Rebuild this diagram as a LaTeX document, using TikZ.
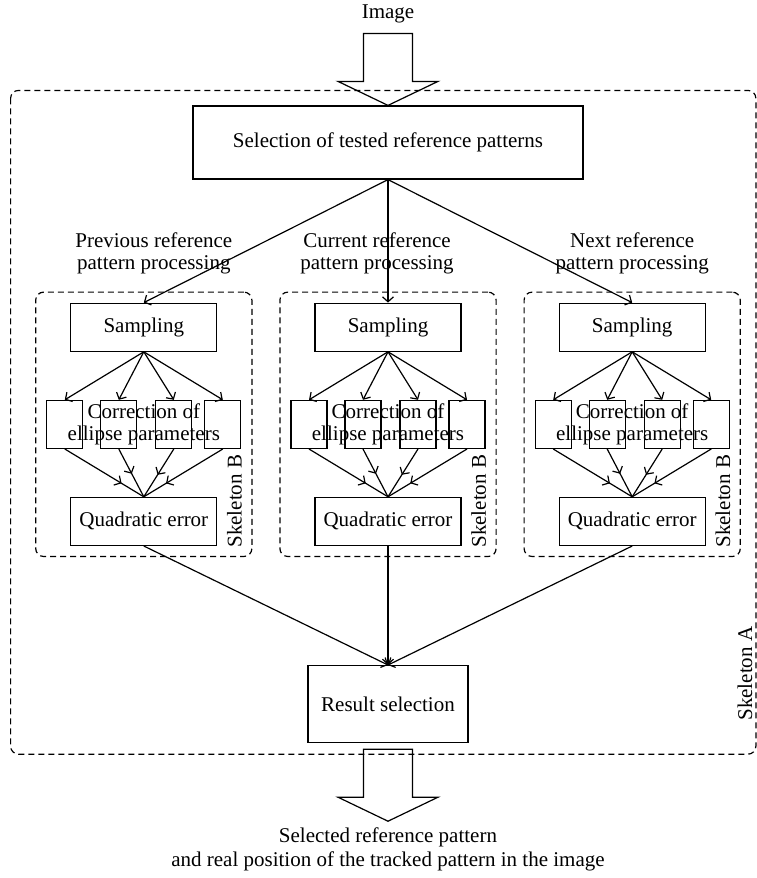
\documentclass[tikz,border=0pt]{standalone}
\usepackage{fontspec}
\setmainfont{Liberation Serif}
\usetikzlibrary{arrows.meta, positioning, calc, fit, decorations.markings}
\tikzset{
    block/.style = {draw, rectangle, inner sep=0pt, minimum height=24pt, minimum width=73pt},
    corr/.style = {draw, rectangle, inner sep=0pt, minimum height=24pt, minimum width=18pt},
    txt/.style = {align=center, inner sep=0pt},
    skelB/.style = {draw, dash pattern=on 3pt off 2pt, rounded corners=4pt, inner sep=5.25pt},
    skelA/.style = {draw, dash pattern=on 3pt off 2pt, rounded corners=4pt},
    midarrow/.style = {postaction={decorate},
        decoration={markings, mark=at position -13pt with {\arrow{>}}}}
}

\begin{document}
\begin{tikzpicture}[x=0.5pt, y=-0.5pt, node distance=24pt, line width=0.6pt,
    >={Straight Barb[length=2.5pt,width=5.5pt]}, font=\fontsize{10.5}{11}\selectfont]
    \useasboundingbox (0,0) rectangle (756,878);

    % Nodos
    \node [block, minimum width=195pt, minimum height=36.5pt] (sel) at (388,142.5) {Selection of tested reference patterns};
    \node [block, below=61.5pt of sel] (samp2) {Sampling};
    \node [block, left=48.5pt of samp2] (samp1) {Sampling};
    \node [block, right=48.5pt of samp2] (samp3) {Sampling};

    \foreach \i/\which/\dx in {1/Previous/5pt, 2/Current/-5.5pt, 3/Next/0pt} {
        \node [corr, below=of samp\i, xshift=-39.5pt] (c\i1) {};
        \node [corr, below=of samp\i, xshift=-12.5pt] (c\i2) {};
        \node [corr, below=of samp\i, xshift=15pt] (c\i3) {};
        \node [corr, below=of samp\i, xshift=39.5pt] (c\i4) {};
        \node [txt] (corrtxt\i) at (samp\i |- c\i1) {Correction of\\ellipse parameters};
        \node [block, below=72.5pt of samp\i] (quad\i) {Quadratic error};
        \node [skelB, fit=(samp\i)(c\i1)(c\i4)(quad\i)] (skB\i) {};
        \node [txt, rotate=90, anchor=south west] (skBtxt\i) at ($(skB\i.south east)+(-10,-9)$) {Skeleton B};
        \node [txt, above=8.5pt of skB\i, xshift=\dx] (lbl\i) {\which\ reference\\pattern processing};

        % Flechas
        \draw [->] (sel.south) -- (samp\i.north);
        \foreach \j in {1,...,4} {
            \draw [->] (samp\i.south) -- (c\i\j.north);
            \draw [midarrow] (c\i\j.south) -- (quad\i.north);
        }
    }

    \node [block, minimum width=80pt, minimum height=38.5pt, below=59.5pt of quad2] (res) {Result selection};
    \draw [->] (quad1.south) -- (res.north);
    \draw [->] (quad2.south) -- (res.north);
    \draw [->] (quad3.south) -- (res.north);

    % Skeleton A
    \coordinate (aNW) at ($(skB1.west |- sel.north)+(-24.5,-15)$);
    \coordinate (aSE) at ($(skB3.east |- res.south)+(15,11)$);
    \draw [skelA] (aNW) rectangle (aSE);
    \node [txt, rotate=90, anchor=south west] (skAtxt) at ($(aSE)+(-3,-33)$) {Skeleton A};

    % Entrada y salida
    \coordinate (intop) at ($(sel.north)+(0,-72)$);
    \draw (sel.north) -- ++(-50,-24) -- ++(25.5,0) -- ++(0,-48) -- ++(49,0) -- ++(0,48) -- ++(25.5,0) -- cycle;
    \node [txt, above=5pt of intop] (img) {Image};

    \coordinate (outtop) at ($(res.south)+(0,6)$);
    \draw (outtop) ++(-24.5,0) -- ++(0,48) -- ++(-25.5,0) -- ++(50,24) coordinate (outtip) -- ++(50,-24) -- ++(-25.5,0) -- ++(0,-48) -- cycle;
    \node [txt, below=3pt of outtip] (outtxt) {Selected reference pattern\\[1pt]and real position of the tracked pattern in the image};
\end{tikzpicture}
\end{document}
